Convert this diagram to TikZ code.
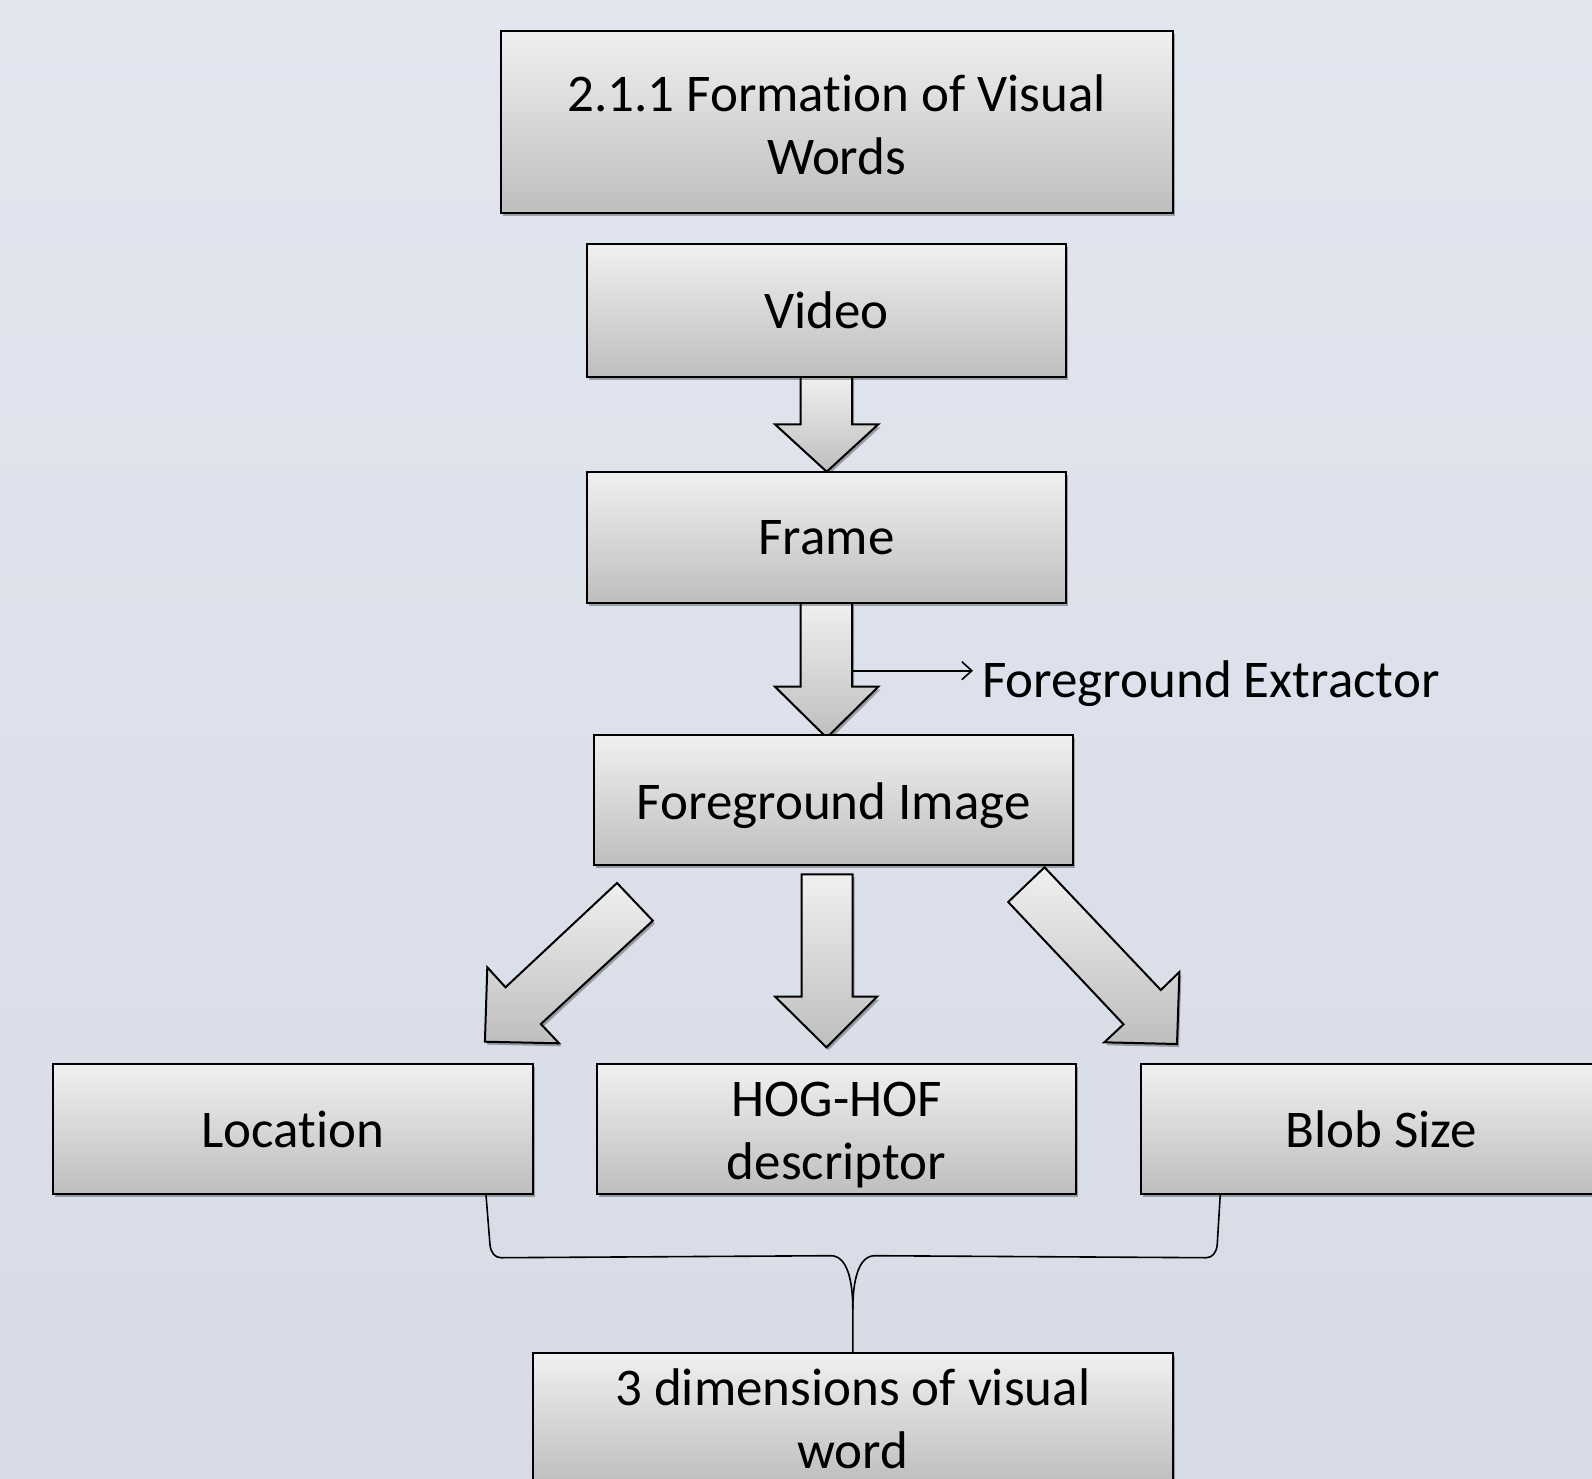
\documentclass[tikz,border=0pt]{standalone}
\usepackage{fontspec}
\setmainfont{Carlito}[Ligatures=NoCommon]
\usetikzlibrary{shadows,arrows.meta,calc}
\definecolor{bgtop}{RGB}{226,230,239}
\definecolor{bgbot}{RGB}{214,219,230}
\definecolor{boxtop}{RGB}{240,240,240}
\definecolor{boxbot}{RGB}{190,190,190}
\tikzset{
  shadowed/.style={drop shadow={shadow xshift=2pt,shadow yshift=-3pt,opacity=.3,fill=black}},
  box/.style={draw=black, line width=2pt, top color=boxtop, bottom color=boxbot,
    minimum width=480pt, minimum height=130pt, align=center, inner sep=0pt,
    font=\fontsize{53}{63}\selectfont, shadowed},
  blockarrow/.style={draw=black, line width=2pt, top color=boxtop, bottom color=boxbot,
    line join=miter, shadowed},
  thinline/.style={line width=1.6pt, draw=black},
  label/.style={inner sep=0pt, font=\fontsize{53}{63}\selectfont}
}
\begin{document}
\begin{tikzpicture}[x=1pt,y=-1pt]
\shade[top color=bgtop,bottom color=bgbot] (0,0) rectangle (1592,1479);
\useasboundingbox (0,0) rectangle (1592,1479);
\clip (0,0) rectangle (1592,1479);

% block arrows
\path[blockarrow] (800.7,376) -- (852,376) -- (852,424.3) -- (878.3,424.3) -- (826.7,471.7) -- (775,424.3) -- (800.7,424.3) -- cycle;
\path[blockarrow] (800.7,602.7) -- (852,602.7) -- (852,686.7) -- (878.3,686.7) -- (826.7,737.7) -- (775,686.7) -- (800.7,686.7) -- cycle;
\path[blockarrow] (801.6,874.3) -- (852.7,874.3) -- (852.7,996.7) -- (877.1,996.7) -- (826.4,1047.3) -- (775.2,996.7) -- (801.6,996.7) -- cycle;
\path[blockarrow] (617,883) -- (652.8,920.7) -- (540.9,1024) -- (559.1,1043.3) -- (484.9,1041.7) -- (487.3,967.3) -- (505.5,987.3) -- cycle;
\path[blockarrow] (1044.5,867.3) -- (1008.2,902) -- (1123.5,1024.3) -- (1104.3,1042.3) -- (1177,1044) -- (1179.4,972) -- (1160.8,990) -- cycle;

% boxes
\node[box, minimum width=672pt, minimum height=181.7pt] (title) at (836.6,122.3) {\rule{0pt}{42pt}2.1.1 Formation of Visual\\Words};
\node[box, minimum width=479.3pt, minimum height=133pt] (video) at (826.5,310.2) {Video};
\node[box, minimum width=479.3pt, minimum height=130.4pt] (frame) at (826.5,537.5) {Frame};
\node[box, minimum width=479.2pt] (fg) at (833.6,800) {\rule{0pt}{49pt}Foreground Image};
\node[box, minimum width=480.2pt] (loc) at (292.9,1129) {Location};
\node[box, minimum width=479.2pt] (hog) at (836.6,1129) {\rule{0pt}{47pt}HOG-HOF\\descriptor};
\node[box, minimum width=480pt] (blob) at (1381.2,1129) {Blob Size};
\node[box, minimum width=639.7pt] (bot) at (852.8,1418.4) {3 dimensions of visual\\word};

% foreground extractor label
\node[label, anchor=base west] (fe) at (982,697) {Foreground Extractor};
\coordinate (fx) at (852,670.7);
\draw[thinline, -{Straight Barb[length=10pt,width=18pt,line width=1.6pt]}] (fx) -- ($(fx -| fe.west)+(-9,0)$);

% bracket connectors
\coordinate (b1) at ($(loc.south east)+(-48,0)$);
\coordinate (b2) at ($(blob.south west)+(80,0)$);
\draw[thinline] (b1) -- ++(4,50) .. controls +(1,8) and +(-6,0) .. ++(11,12.7)
  -- ($(bot.north)+(-22,-96.7)$) .. controls +(16,0) and +(0,-30) .. ($(bot.north)+(0,-43)$) -- (bot.north);
\draw[thinline] (b2) -- ++(-3,50) .. controls +(-1,8) and +(6,0) .. ++(-11,12.7)
  -- ($(bot.north)+(22,-96.7)$) .. controls +(-16,0) and +(0,-30) .. ($(bot.north)+(0,-43)$);
\end{tikzpicture}
\end{document}
